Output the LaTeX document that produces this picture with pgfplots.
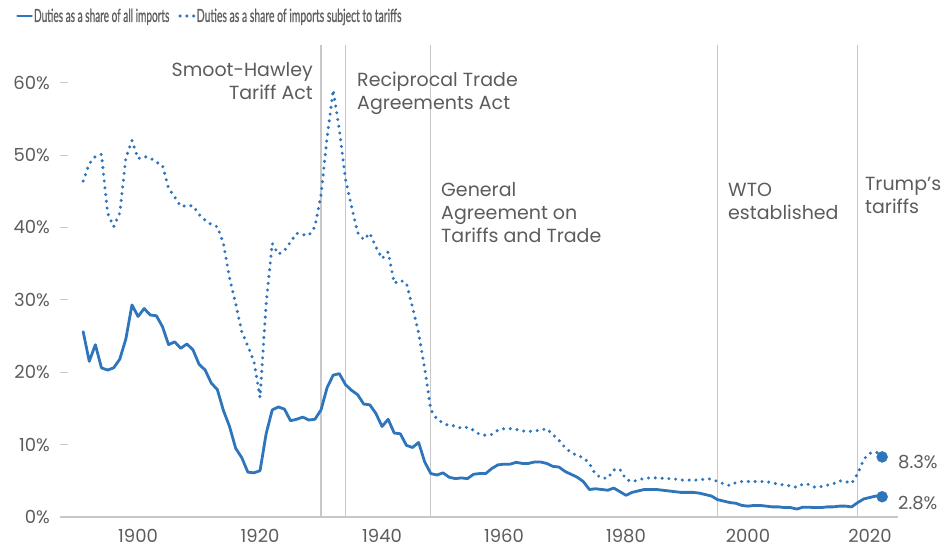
\documentclass[border=0pt]{standalone}
\usepackage{graphicx}
\usepackage{pgfplots}
\usepackage{pgfplotstable}
\pgfplotsset{compat=1.18}
\usepackage{fontspec}
\setmainfont{Poppins}
\newfontfamily\legfont[BoldFont={Lato}, BoldFeatures={FakeBold=1.2}]{Lato}
\definecolor{lineblue}{RGB}{46,117,188}
\definecolor{txtgray}{RGB}{92,92,92}
\definecolor{leggray}{RGB}{96,96,96}
\definecolor{vgray}{RGB}{200,200,200}

\pgfplotstableread{
year val
1891 25.6
1892 21.5
1893 23.8
1894 20.6
1895 20.3
1896 20.6
1897 21.8
1898 24.6
1899 29.3
1900 27.7
1901 28.8
1902 27.9
1903 27.8
1904 26.3
1905 23.8
1906 24.2
1907 23.3
1908 23.9
1909 23.1
1910 21.1
1911 20.3
1912 18.5
1913 17.6
1914 14.7
1915 12.5
1916 9.5
1917 8.2
1918 6.2
1919 6.1
1920 6.4
1921 11.5
1922 14.8
1923 15.2
1924 14.9
1925 13.3
1926 13.5
1927 13.8
1928 13.4
1929 13.5
1930 14.8
1931 17.9
1932 19.6
1933 19.8
1934 18.3
1935 17.5
1936 16.9
1937 15.6
1938 15.5
1939 14.3
1940 12.5
1941 13.5
1942 11.6
1943 11.5
1944 9.9
1945 9.6
1946 10.3
1947 7.6
1948 6.0
1949 5.8
1950 6.1
1951 5.5
1952 5.3
1953 5.4
1954 5.3
1955 5.9
1956 6.0
1957 6.0
1958 6.7
1959 7.2
1960 7.3
1961 7.3
1962 7.55
1963 7.4
1964 7.4
1965 7.6
1966 7.6
1967 7.4
1968 7.0
1969 6.9
1970 6.3
1971 5.9
1972 5.5
1973 4.9
1974 3.8
1975 3.9
1976 3.8
1977 3.7
1978 4.0
1979 3.5
1980 3.0
1981 3.4
1982 3.6
1983 3.8
1984 3.8
1985 3.8
1986 3.7
1987 3.6
1988 3.5
1989 3.4
1990 3.4
1991 3.4
1992 3.3
1993 3.1
1994 2.9
1995 2.4
1996 2.2
1997 2.0
1998 1.9
1999 1.6
2000 1.5
2001 1.6
2002 1.6
2003 1.5
2004 1.4
2005 1.4
2006 1.3
2007 1.3
2008 1.1
2009 1.35
2010 1.35
2011 1.3
2012 1.3
2013 1.4
2014 1.4
2015 1.5
2016 1.5
2017 1.4
2018 2.0
2019 2.5
2020 2.7
2021 2.9
2022 2.8
}\alltbl

\pgfplotstableread{
year val
1891 46.4
1892 48.8
1893 49.8
1894 50.1
1895 42.0
1896 40.1
1897 42.0
1898 49.6
1899 52.0
1900 49.5
1901 49.8
1902 49.6
1903 49.0
1904 48.6
1905 45.4
1906 44.2
1907 42.9
1908 43.0
1909 43.0
1910 41.8
1911 41.0
1912 40.4
1913 40.1
1914 37.8
1915 33.0
1916 29.5
1917 25.6
1918 23.6
1919 21.5
1920 16.5
1921 29.5
1922 37.8
1923 36.3
1924 36.8
1925 38.0
1926 39.2
1927 39.0
1928 38.9
1929 40.1
1930 44.5
1931 52.5
1932 59.0
1933 53.5
1934 46.7
1935 42.9
1936 39.3
1937 38.3
1938 39.2
1939 37.3
1940 35.7
1941 36.6
1942 32.3
1943 32.7
1944 32.3
1945 29.0
1946 25.4
1947 20.5
1948 14.8
1949 13.5
1950 13.0
1951 12.6
1952 12.6
1953 12.25
1954 12.4
1955 12.0
1956 11.4
1957 11.3
1958 11.4
1959 12.0
1960 12.2
1961 12.2
1962 12.1
1963 11.9
1964 11.8
1965 11.9
1966 12.0
1967 12.2
1968 11.4
1969 10.6
1970 9.6
1971 8.9
1972 8.5
1973 8.2
1974 7.4
1975 5.9
1976 5.4
1977 5.35
1978 6.5
1979 6.6
1980 5.2
1981 4.9
1982 5.1
1983 5.35
1984 5.4
1985 5.4
1986 5.35
1987 5.3
1988 5.25
1989 5.1
1990 5.1
1991 5.1
1992 5.1
1993 5.25
1994 5.25
1995 4.9
1996 4.6
1997 4.35
1998 4.75
1999 4.9
2000 4.9
2001 4.9
2002 4.9
2003 4.9
2004 4.7
2005 4.55
2006 4.4
2007 4.3
2008 4.1
2009 4.55
2010 4.5
2011 4.1
2012 4.2
2013 4.4
2014 4.6
2015 5.0
2016 4.9
2017 4.65
2018 6.0
2019 8.0
2020 8.8
2021 9.0
2022 8.3
}\subtbl

\begin{document}
\begin{tikzpicture}
\path[use as bounding box] (0pt,0pt) rectangle (946pt,547pt);
\begin{axis}[
  scale only axis,
  width=838pt, height=472pt,
  at={(60pt,30pt)}, anchor=south west,
  xmin=1887.2, xmax=2024.6,
  ymin=0, ymax=65.2,
  axis line style={draw=none},
  xtick={1900,1920,1940,1960,1980,2000,2020},
  ytick={0,10,20,30,40,50,60},
  ytick pos=left,
  xtick pos=bottom,
  /pgf/number format/assume math mode=true,
  xticklabel={\pgfmathprintnumber[1000 sep={},fixed]{\tick}},
  yticklabel={\pgfmathprintnumber{\tick}\%},
  tick label style={font=\fontsize{18}{20}\selectfont, text=txtgray},
  xticklabel style={inner sep=0pt, yshift=-12pt},
  yticklabel style={inner sep=0pt, xshift=-10pt},
  x tick style={draw=none},
  y tick style={draw=vgray, line width=1pt},
  major tick length=8pt,
  tick align=inside,
  clip=false,
  legend columns=2,
  legend style={draw=none, fill=none, at={(axis description cs:-0.0525,1.0614)}, anchor=west,
    font=\legfont\bfseries\fontsize{18}{20}\selectfont, text=leggray, inner sep=0pt,
    nodes={inner sep=0pt, anchor=west},
    /tikz/every odd column/.append style={column sep=1pt},
    /tikz/every even column/.append style={column sep=9pt}},
  legend image code/.code={\draw[#1] (0pt,0pt) -- (14pt,0pt);},
]
\draw[vgray, line width=1.2pt] (rel axis cs:0,0) -- (rel axis cs:1,0);
\foreach \yr in {1930,1934,1948,1995,2018} {
  \edef\tmp{\noexpand\draw[vgray, line width=1.1pt] (axis cs:\yr,0) -- (axis cs:\yr,65.2);}
  \tmp
}
\addplot[lineblue, line width=2.8pt, line join=round, line cap=round] table[x=year,y=val] {\alltbl};
\addlegendentry{\scalebox{0.56}[1]{Duties as a share of all imports}}
\addplot[lineblue, line width=3.4pt, line cap=round, dash pattern=on 0pt off 6.8pt] table[x=year,y=val] {\subtbl};
\addlegendentry{\scalebox{0.58}[1]{Duties as a share of imports subject to tariffs}}
\addplot[only marks, mark=*, mark size=5.5pt, color=lineblue, forget plot] coordinates {(2022,2.8) (2022,8.3)};
\end{axis}
\begin{scope}[every node/.style={text=txtgray, inner sep=0pt, font=\fontsize{19}{23}\selectfont}]
\node[anchor=north east, align=right] at (313pt,485pt) {Smoot-Hawley\\Tariff Act};
\node[anchor=north west, align=left] at (357pt,475pt) {Reciprocal Trade\\Agreements Act};
\node[anchor=north west, align=left] at (441pt,365pt) {General\\Agreement on\\Tariffs and Trade};
\node[anchor=north west, align=left] at (728pt,364pt) {WTO\\established};
\node[anchor=north west, align=left] at (865pt,370pt) {Trump's\\tariffs};
\node[anchor=west, font=\fontsize{18}{20}\selectfont] at (898pt,85pt) {8.3\%};
\node[anchor=west, font=\fontsize{18}{20}\selectfont] at (898pt,44pt) {2.8\%};
\end{scope}
\end{tikzpicture}
\end{document}
